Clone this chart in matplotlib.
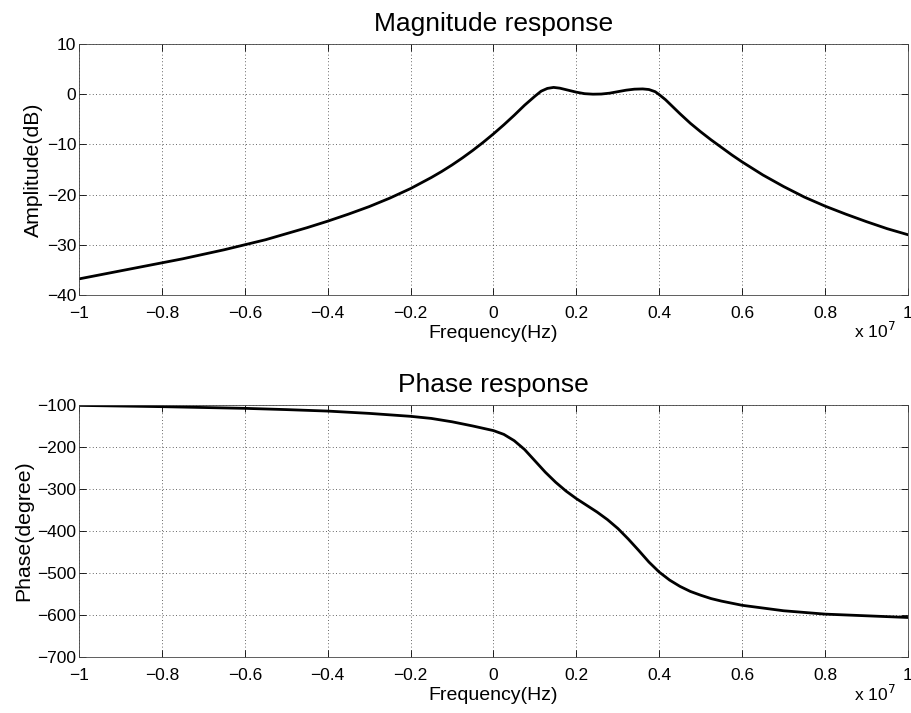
"""Magnitude / phase response plot (MATLAB-style look)."""

import matplotlib
matplotlib.use("Agg")
import matplotlib.pyplot as plt

# frequency axis in units of 1e7 Hz (as shown on the ticks)
FREQ_MAG = [-1.00, -0.95, -0.90, -0.85, -0.80, -0.75, -0.70, -0.65, -0.60, -0.55,
            -0.50, -0.45, -0.40, -0.35, -0.30, -0.25, -0.20, -0.15, -0.125, -0.10,
            -0.075, -0.05, -0.025, 0.00, 0.025, 0.05, 0.075, 0.10, 0.115, 0.13,
            0.145, 0.16, 0.18, 0.20, 0.22, 0.24, 0.26, 0.28, 0.30, 0.32,
            0.34, 0.36, 0.375, 0.39, 0.40, 0.415, 0.43, 0.45, 0.475, 0.50,
            0.525, 0.55, 0.575, 0.60, 0.65, 0.70, 0.75, 0.80, 0.85, 0.90,
            0.95, 1.00]
MAG_DB = [-36.8, -36.0, -35.2, -34.4, -33.6, -32.8, -31.9, -31.0, -30.0, -29.0,
          -27.8, -26.6, -25.3, -23.9, -22.4, -20.7, -18.8, -16.6, -15.4, -14.1,
          -12.7, -11.2, -9.6, -7.9, -6.1, -4.2, -2.2, -0.4, 0.6, 1.15,
          1.35, 1.2, 0.8, 0.4, 0.1, 0.0, 0.03, 0.2, 0.5, 0.8,
          1.0, 1.05, 0.93, 0.5, -0.1, -1.1, -2.3, -3.9, -5.8, -7.5,
          -9.1, -10.6, -12.1, -13.5, -16.1, -18.4, -20.5, -22.3, -23.9, -25.4,
          -26.8, -28.0]

FREQ_PH = [-1.00, -0.90, -0.80, -0.70, -0.60, -0.50, -0.40, -0.30, -0.20, -0.15,
           -0.10, -0.05, 0.00, 0.025, 0.05, 0.075, 0.10, 0.125, 0.15, 0.175,
           0.20, 0.225, 0.25, 0.275, 0.30, 0.325, 0.35, 0.375, 0.40, 0.425,
           0.45, 0.475, 0.50, 0.525, 0.55, 0.60, 0.70, 0.80, 0.90, 1.00]
PHASE_DEG = [-101, -102.5, -104, -106, -108, -111, -114.5, -120, -127, -132,
             -140, -150, -161, -170, -185, -206, -233, -260, -284, -305,
             -323, -339, -355, -373, -394, -419, -446, -474, -498, -517,
             -532, -544, -553, -561, -567, -577, -590, -598, -602, -606]

X_TICKS = [-1, -0.8, -0.6, -0.4, -0.2, 0, 0.2, 0.4, 0.6, 0.8, 1]
X_TICK_LABELS = ["\u22121", "\u22120.8", "\u22120.6", "\u22120.4", "\u22120.2",
                 "0", "0.2", "0.4", "0.6", "0.8", "1"]
MAG_TICKS = [-40, -30, -20, -10, 0, 10]
PHASE_TICKS = [-700, -600, -500, -400, -300, -200, -100]

plt.rcParams["font.family"] = ["Liberation Sans", "DejaVu Sans"]
plt.rcParams["axes.unicode_minus"] = True

fig = plt.figure(figsize=(9.12, 7.13), dpi=100)
ax1 = fig.add_axes([0.0866, 0.5863, 0.9090, 0.3520])
ax2 = fig.add_axes([0.0866, 0.0786, 0.9090, 0.3534])


def style_axis(ax, yticks, ylabel, title):
    ax.set_xlim(-1, 1)
    ax.set_ylim(yticks[0], yticks[-1])
    ax.set_xticks(X_TICKS)
    ax.set_xticklabels(X_TICK_LABELS)
    ax.set_yticks(yticks)
    ax.tick_params(direction="in", top=True, right=True, length=5, width=0.6,
                   labelsize=12.5)
    ax.tick_params(axis="x", pad=8)
    ax.tick_params(axis="y", pad=2)
    ax.grid(True, linestyle=(0, (1, 3)), color="black", linewidth=0.6, alpha=0.8)
    for sp in ax.spines.values():
        sp.set_linewidth(0.6)
        sp.set_color("#444444")
    ax.set_xlabel("Frequency(Hz)", fontsize=14, labelpad=2.5)
    ax.set_ylabel(ylabel, fontsize=15.3, labelpad=3)
    ax.set_title(title, fontsize=19, pad=9)
    ax.text(0.985, -0.105, "x 10$^{7}$", transform=ax.transAxes, ha="right",
            va="top", fontsize=12.5)


ax1.plot(FREQ_MAG, MAG_DB, color="black", linewidth=2.0)
style_axis(ax1, MAG_TICKS, "Amplitude(dB)", "Magnitude response")

ax2.plot(FREQ_PH, PHASE_DEG, color="black", linewidth=2.0)
style_axis(ax2, PHASE_TICKS, "Phase(degree)", "Phase response")

fig.savefig("out.png", dpi=100)
plt.close(fig)
